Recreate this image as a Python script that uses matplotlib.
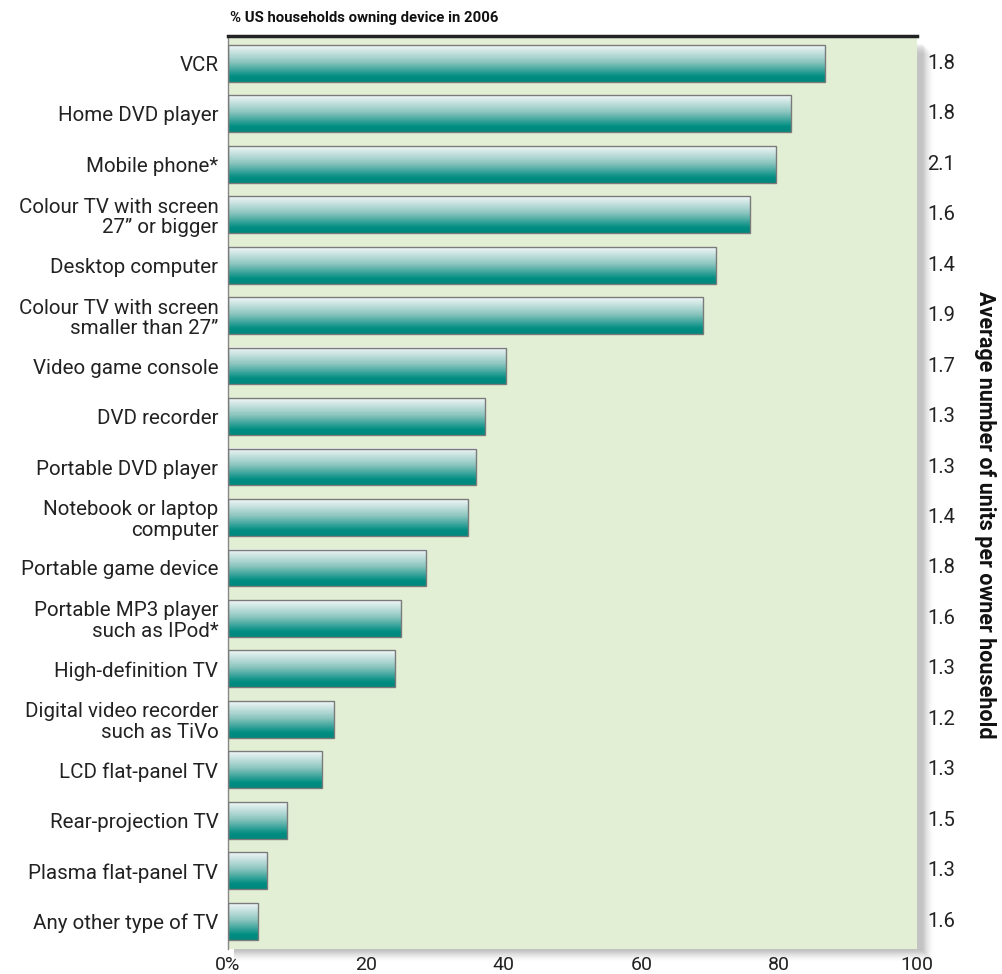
import matplotlib
matplotlib.use("Agg")
import matplotlib.pyplot as plt
import numpy as np
from matplotlib.colors import LinearSegmentedColormap
from matplotlib.patches import Rectangle

categories = [
    "VCR", "Home DVD player", "Mobile phone*",
    "Colour TV with screen\n27\u201d or bigger", "Desktop computer",
    "Colour TV with screen\nsmaller than 27\u201d", "Video game console",
    "DVD recorder", "Portable DVD player", "Notebook or laptop\ncomputer",
    "Portable game device", "Portable MP3 player\nsuch as IPod*",
    "High-definition TV", "Digital video recorder\nsuch as TiVo",
    "LCD flat-panel TV", "Rear-projection TV", "Plasma flat-panel TV",
    "Any other type of TV",
]
ownership = [86.6, 81.7, 79.6, 75.7, 70.8, 69.0, 40.3, 37.3, 36.0, 34.8,
             28.8, 25.1, 24.3, 15.4, 13.6, 8.6, 5.7, 4.4]
units = ["1.8", "1.8", "2.1", "1.6", "1.4", "1.9", "1.7", "1.3", "1.3", "1.4",
         "1.8", "1.6", "1.3", "1.2", "1.3", "1.5", "1.3", "1.6"]
xticks = [0, 20, 40, 60, 80, 100]
xticklabels = ["0%", "20", "40", "60", "80", "100"]
title = "% US households owning device in 2006"
right_label = "Average number of units per owner household"

plt.rcParams['font.family'] = ['Roboto', 'DejaVu Sans']

W, H = 1002, 974
fig = plt.figure(figsize=(W / 100, H / 100), dpi=100)
x0, x1, y0, y1 = 228, 917, 36, 949
ax = fig.add_axes([x0 / W, 1 - y1 / H, (x1 - x0) / W, (y1 - y0) / H])

# drop shadow right & bottom
for i in range(12):
    a = 0.06 * (1 - i / 12)
    fig.patches.append(Rectangle(((x0 + 6) / W, (H - y1 - 2 - i) / H),
                                 (x1 - x0 + i) / W, (y1 - y0 - 6) / H,
                                 transform=fig.transFigure, facecolor='#555555',
                                 alpha=a, edgecolor='none', zorder=-1))

ax.set_facecolor('#e3efd4')
n = len(categories)
ypos = np.arange(n)
bh = 0.73

cmap = LinearSegmentedColormap.from_list(
    'tealgrad', [(0, '#f2f8f8'), (0.45, '#8ec6c0'), (0.85, '#008d82'), (1, '#00877c')])
grad = np.linspace(0, 1, 256).reshape(-1, 1)

for y, v in zip(ypos, ownership):
    ax.imshow(grad, cmap=cmap, aspect='auto', extent=[0, v, y + bh / 2, y - bh / 2],
              interpolation='bicubic', zorder=2)
ax.barh(ypos, ownership, height=bh, facecolor='none', edgecolor='#7a7a7a',
        linewidth=1.0, zorder=3)

ax.set_xlim(0, 100)
ax.set_ylim(n - 1 + 0.55, -0.54)
ax.set_yticks(ypos)
ax.set_yticklabels(categories, fontsize=14.8, color='#222222', linespacing=1.1)
ax.set_xticks(xticks)
ax.set_xticklabels(xticklabels, fontsize=14, color='#222222')
ax.tick_params(axis='both', length=0)
ax.tick_params(axis='y', pad=7)
ax.tick_params(axis='x', pad=5)

for s in ['right', 'bottom']:
    ax.spines[s].set_visible(False)
ax.spines['left'].set_color('#888888')
ax.spines['left'].set_linewidth(1.0)
ax.spines['top'].set_color('#222222')
ax.spines['top'].set_linewidth(2.5)

for y, u in zip(ypos, units):
    ax.text(101.5, y, u, fontsize=14.5, color='#222222', va='center', ha='left',
            clip_on=False)

fig.text(230 / W, 1 - 18 / H, title, fontsize=10.7, fontweight='bold',
         color='#111111', ha='left', va='center')
fig.text(985 / W, 1 - 515 / H, right_label, fontsize=15.5, fontweight='bold',
         color='#111111', rotation=270, ha='center', va='center')

fig.savefig('out.png', dpi=100)
